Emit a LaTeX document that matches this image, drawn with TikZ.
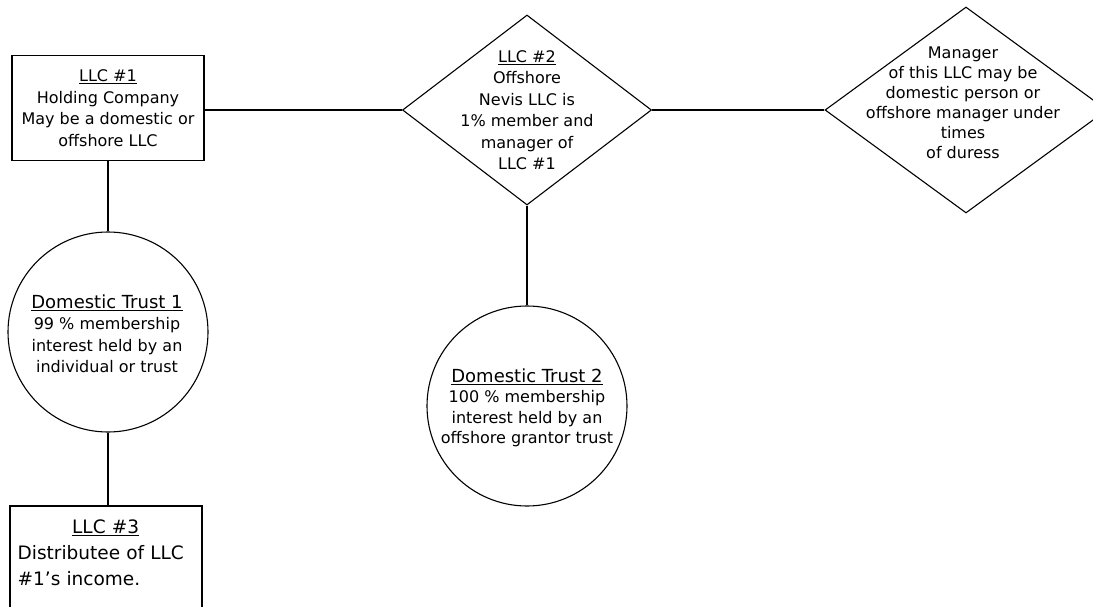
\documentclass[tikz,border=0pt]{standalone}
\usepackage{fontspec}
\setmainfont{DejaVu Sans}
\usetikzlibrary{shapes.geometric}

\tikzset{
  box/.style={draw, line width=1.1pt, rectangle, inner sep=0pt},
  llcdiamond/.style={draw, line width=1.1pt, diamond, inner sep=0pt},
  trust/.style={draw, line width=1.1pt, circle, minimum size=200pt, inner sep=0pt},
  txt/.style={align=center, inner sep=0pt, font=\fontsize{16}{21.5}\selectfont},
  link/.style={line width=1.1pt}
}

\begin{document}
\begin{tikzpicture}[x=1pt, y=-1pt]
  \useasboundingbox (0,0) rectangle (1093,607);
  \clip (0,0) rectangle (1093,607);

  % LLC boxes
  \node[box, txt, minimum width=192pt, minimum height=105pt] (llc1) at (108,108)
    {\underline{LLC \#1}\\ Holding Company\\ May be a domestic or\\ offshore LLC};
  \node[box, minimum width=192pt, minimum height=130pt] (llc3) at (106,571) {};
  \node[txt, align=left, anchor=north west, font=\fontsize{18.5}{26}\selectfont,
        text width=176pt] (llc3txt) at ([xshift=8pt,yshift=-14pt]llc3.north west)
    {\hfill\underline{LLC \#3}\hfill\mbox{}\\ Distributee of LLC\\ \#1's income.};

  % Diamonds
  \node[llcdiamond, minimum width=249pt, minimum height=190pt] (llc2) at (527,110) {};
  \node[txt] (llc2txt) at (llc2)
    {\underline{LLC \#2}\\ Offshore\\ Nevis LLC is\\ 1\% member and\\ manager of\\ LLC \#1};
  \node[llcdiamond, minimum width=282pt, minimum height=206pt] (mgr) at (966,110) {};
  \node[txt, font=\fontsize{16}{20}\selectfont] (mgrtxt) at (963,103)
    {Manager\\ of this LLC may be\\ domestic person or\\ offshore manager under\\ times\\ of duress};

  % Trusts
  \node[trust] (trust1) at (108,332) {};
  \node[txt] (trust1txt) at (107,334)
    {{\fontsize{18}{22}\selectfont\underline{Domestic Trust 1}}\\ 99 \% membership\\ interest held by an\\ individual or trust};
  \node[trust] (trust2) at (527,406) {};
  \node[txt, font=\fontsize{16}{20.5}\selectfont] (trust2txt) at (527,408)
    {{\fontsize{18}{22}\selectfont\underline{Domestic Trust 2}}\\ 100 \% membership\\ interest held by an\\ offshore grantor trust};

  % Connectors
  \draw[link] (llc2.west -| llc1.east) -- (llc2.west);
  \draw[link] (llc2.east) -- (mgr.west);
  \draw[link] (llc1.south) -- (trust1.north);
  \draw[link] (trust1.south) -- (trust1.south |- llc3.north);
  \draw[link] (llc2.south) -- (trust2.north);
\end{tikzpicture}
\end{document}
